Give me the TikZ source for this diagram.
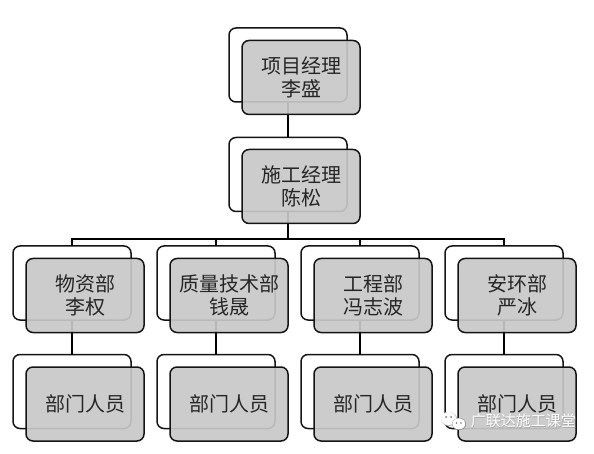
\documentclass[tikz,border=0pt]{standalone}
\usepackage{fontspec}
\setmainfont{Noto Sans CJK SC}[BoldFont={Noto Sans CJK SC}]
\definecolor{frontfill}{RGB}{200,200,200}
\definecolor{edgeink}{RGB}{20,20,20}
\tikzset{
  backbox/.style={draw=edgeink,line width=1.5pt,rounded corners=7pt,fill=white,minimum width=118pt,minimum height=74pt,inner sep=0pt,outer sep=0pt,anchor=north west},
  frontbox/.style={draw=edgeink,line width=1.5pt,rounded corners=7pt,fill=frontfill,fill opacity=.92,text opacity=1,minimum width=118pt,minimum height=74pt,inner sep=0pt,outer sep=0pt,anchor=north west,align=center,font=\fontsize{20pt}{23.5pt}\selectfont,text=black!85},
  link/.style={draw=black,line width=1.7pt},
  wmtext/.style={font=\fontsize{15pt}{16pt}\selectfont,inner sep=0pt}
}
\begin{document}
\begin{tikzpicture}[x=1pt,y=-1pt]
\useasboundingbox (0,0) rectangle (594,454);
% back boxes
\node[backbox] (a0) at (229,28) {};
\node[backbox] (b0) at (229,137.5) {};
\foreach \n/\x in {c/13,d/157,e/301,f/445}{
  \node[backbox] (\n0) at (\x,246) {};
  \node[backbox] (\n2) at (\x,354.5) {};
}
\coordinate (bus) at (288,239);
% connectors
\draw[link] (a0.south) -- (b0.north);
\draw[link] (b0.south) -- (bus);
\foreach \n in {c,d,e,f}{
  \draw[link] (bus) -| (\n0.north);
  \draw[link] (\n0.south) -- (\n2.north);
}
% front boxes
\node[frontbox] (a1) at (242,40.5) {项目经理\\李盛};
\node[frontbox] (b1) at (242,149.5) {施工经理\\陈松};
\node[frontbox] (c1) at (26,258.5) {物资部\\李权};
\node[frontbox] (d1) at (170,258.5) {质量技术部\\钱晟};
\node[frontbox] (e1) at (314,258.5) {工程部\\冯志波};
\node[frontbox] (f1) at (458,258.5) {安环部\\严冰};
\node[frontbox] (c3) at (26,367) {部门人员};
\node[frontbox] (d3) at (170,367) {部门人员};
\node[frontbox] (e3) at (314,367) {部门人员};
\node[frontbox] (f3) at (458,367) {部门人员};
% watermark
\node[text=black!35,wmtext] (wms) at (523.8,421.8) {广联达施工课堂};
\node[text=white,wmtext] (wm) at (523.3,421.3) {广联达施工课堂};
\fill[black!25] (449,419) ellipse (8pt and 7pt);
\fill[white] (448.5,418.5) ellipse (7.5pt and 6.5pt);
\fill[black!50] (459,424) ellipse (7pt and 6pt);
\fill[white] (458.8,423.8) ellipse (6.5pt and 5.5pt);
\fill[black!55] (446,417) circle (1pt) (451,417) circle (1pt) (456.5,423) circle (.9pt) (461,423) circle (.9pt);
\end{tikzpicture}
\end{document}
